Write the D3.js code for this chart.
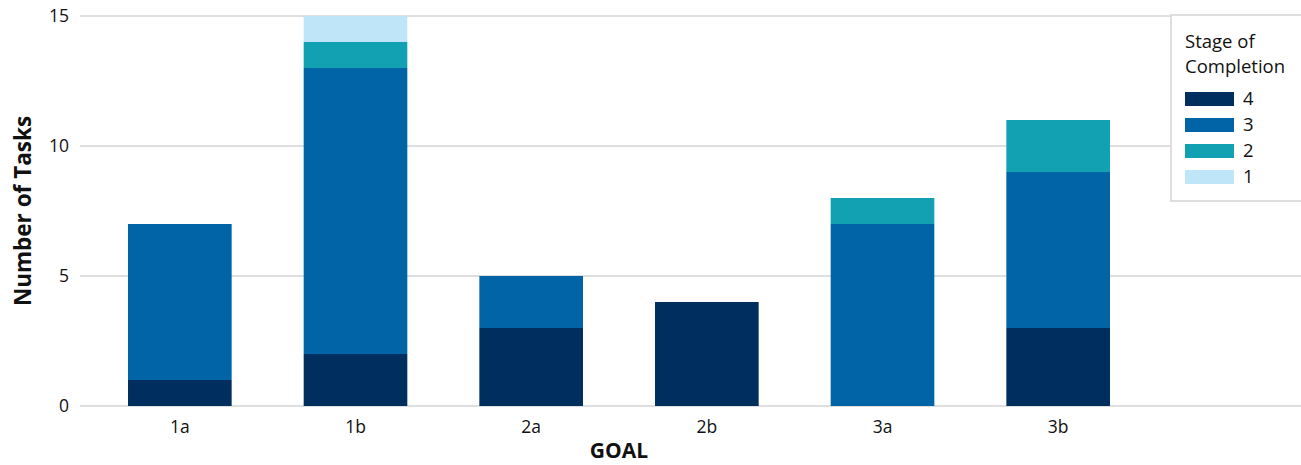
<!DOCTYPE html>
<html>
<head>
<meta charset="utf-8">
<script src="https://cdn.jsdelivr.net/npm/d3@7"></script>
<style>
  body { margin: 0; background: #fff; }
  text { font-family: "Open Sans", sans-serif; fill: #111; }
  .grid line { stroke: #dedede; stroke-width: 2px; }
</style>
</head>
<body>
<svg id="chart" width="1301" height="465"></svg>
<script>
// data
const goals = ["1a", "1b", "2a", "2b", "3a", "3b"];
const stages = ["4", "3", "2", "1"];
const stage4 = [1, 2, 3, 4, 0, 3];
const stage3 = [6, 11, 2, 0, 7, 6];
const stage2 = [0, 1, 0, 0, 1, 2];
const stage1 = [0, 1, 0, 0, 0, 0];
const yTicks = [0, 5, 10, 15];
const stageColors = ["#002f5f", "#0064a7", "#12a1b3", "#bee5f8"];

const rows = goals.map((g, i) => ({
    goal: g, "4": stage4[i], "3": stage3[i], "2": stage2[i], "1": stage1[i]
}));

const svg = d3.select("#chart");

let x = d3.scaleBand()
    .domain(goals)
    .range([92, 1146])
    .paddingInner(0.41)
    .paddingOuter(0.205);

let y = d3.scaleLinear()
    .domain([0, 15])
    .range([406, 16]);

let color = d3.scaleOrdinal()
    .domain(stages)
    .range(stageColors);

// gridlines
let grid = svg.append("g").attr("class", "grid");
grid.selectAll("line")
    .data(yTicks)
  .join("line")
    .attr("x1", 80)
    .attr("x2", 1301)
    .attr("y1", d => y(d))
    .attr("y2", d => y(d));

grid.selectAll("text")
    .data(yTicks)
  .join("text")
    .text(d => d)
    .attr("x", 69)
    .attr("y", d => y(d))
    .attr("dy", "0.35em")
    .attr("text-anchor", "end")
    .style("font-size", "17.5px");

// bars
const stackGen = d3.stack().keys(stages);
const series = stackGen(rows);

svg.append("g")
    .selectAll("g")
    .data(series)
  .join("g")
    .attr("fill", d => color(d.key))
  .selectAll("rect")
    .data(d => d)
  .join("rect")
    .attr("x", d => x(d.data.goal))
    .attr("y", d => y(d[1]))
    .attr("width", x.bandwidth())
    .attr("height", d => y(d[0]) - y(d[1]));

// x labels
svg.append("g")
    .selectAll("text")
    .data(goals)
  .join("text")
    .text(d => d)
    .attr("x", d => x(d) + x.bandwidth() / 2)
    .attr("y", 433)
    .attr("text-anchor", "middle")
    .style("font-size", "17.5px");

// axis titles
svg.append("text")
    .text("GOAL")
    .attr("x", (x.range()[0] + x.range()[1]) / 2)
    .attr("y", 458)
    .attr("text-anchor", "middle")
    .style("font-size", "21px")
    .style("font-weight", "bold");

svg.append("text")
    .text("Number of Tasks")
    .attr("transform", `translate(31, ${(y(0) + y(15)) / 2}) rotate(-90)`)
    .attr("text-anchor", "middle")
    .style("font-size", "22.5px")
    .style("font-weight", "bold");

// legend
let legend = svg.append("g").attr("transform", "translate(1171, 15)");
legend.append("rect")
    .attr("x", 0)
    .attr("y", 0)
    .attr("width", 160)
    .attr("height", 186)
    .attr("fill", "#fff")
    .attr("stroke", "#dedede")
    .attr("stroke-width", 2);

legend.append("text")
    .attr("x", 14)
    .attr("y", 33)
    .style("font-size", "18.5px")
    .selectAll("tspan")
    .data(["Stage of", "Completion"])
  .join("tspan")
    .attr("x", 14)
    .attr("dy", (d, i) => i ? 25 : 0)
    .text(d => d);

let items = legend.selectAll(".item")
    .data(stages)
  .join("g")
    .attr("class", "item")
    .attr("transform", (d, i) => `translate(14, ${77 + i * 26})`);

items.append("rect")
    .attr("width", 49)
    .attr("height", 14)
    .attr("fill", d => color(d));

items.append("text")
    .text(d => d)
    .attr("x", 58)
    .attr("y", 7)
    .attr("dy", "0.35em")
    .style("font-size", "18.5px");
</script>
</body>
</html>
